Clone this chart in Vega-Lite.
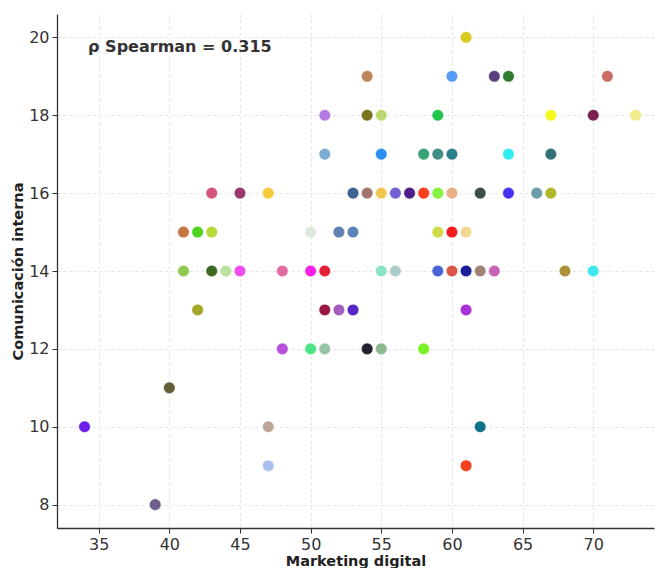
{
  "$schema": "https://vega.github.io/schema/vega-lite/v6.json",
  "width": 597,
  "height": 514,
  "autosize": {"type": "none"},
  "padding": {"left": 57, "top": 14, "right": 1, "bottom": 40},
  "config": {
    "view": {"stroke": null},
    "font": "DejaVu Sans",
    "axis": {
      "grid": true,
      "gridDash": [3, 3],
      "gridColor": "#dcdcdc",
      "gridWidth": 0.8,
      "domainColor": "#333333",
      "domainWidth": 1.3,
      "tickColor": "#333333",
      "tickSize": 5,
      "labelFont": "DejaVu Sans",
      "labelFontSize": 16,
      "labelColor": "#333333",
      "titleFont": "DejaVu Sans",
      "titleFontSize": 14.5,
      "titleFontWeight": "bold",
      "titleColor": "#222222"
    }
  },
  "layer": [
    {
      "data": {
        "values": [
          {"id": "p01", "marketing": 61, "comunicacion": 20},
          {"id": "p02", "marketing": 54, "comunicacion": 19},
          {"id": "p03", "marketing": 60, "comunicacion": 19},
          {"id": "p04", "marketing": 63, "comunicacion": 19},
          {"id": "p05", "marketing": 64, "comunicacion": 19},
          {"id": "p06", "marketing": 71, "comunicacion": 19},
          {"id": "p07", "marketing": 51, "comunicacion": 18},
          {"id": "p08", "marketing": 54, "comunicacion": 18},
          {"id": "p09", "marketing": 55, "comunicacion": 18},
          {"id": "p10", "marketing": 59, "comunicacion": 18},
          {"id": "p11", "marketing": 67, "comunicacion": 18},
          {"id": "p12", "marketing": 70, "comunicacion": 18},
          {"id": "p13", "marketing": 73, "comunicacion": 18},
          {"id": "p14", "marketing": 51, "comunicacion": 17},
          {"id": "p15", "marketing": 55, "comunicacion": 17},
          {"id": "p16", "marketing": 58, "comunicacion": 17},
          {"id": "p17", "marketing": 59, "comunicacion": 17},
          {"id": "p18", "marketing": 60, "comunicacion": 17},
          {"id": "p19", "marketing": 64, "comunicacion": 17},
          {"id": "p20", "marketing": 67, "comunicacion": 17},
          {"id": "p21", "marketing": 43, "comunicacion": 16},
          {"id": "p22", "marketing": 45, "comunicacion": 16},
          {"id": "p23", "marketing": 47, "comunicacion": 16},
          {"id": "p24", "marketing": 53, "comunicacion": 16},
          {"id": "p25", "marketing": 54, "comunicacion": 16},
          {"id": "p26", "marketing": 55, "comunicacion": 16},
          {"id": "p27", "marketing": 56, "comunicacion": 16},
          {"id": "p28", "marketing": 57, "comunicacion": 16},
          {"id": "p29", "marketing": 58, "comunicacion": 16},
          {"id": "p30", "marketing": 59, "comunicacion": 16},
          {"id": "p31", "marketing": 60, "comunicacion": 16},
          {"id": "p32", "marketing": 62, "comunicacion": 16},
          {"id": "p33", "marketing": 64, "comunicacion": 16},
          {"id": "p34", "marketing": 66, "comunicacion": 16},
          {"id": "p35", "marketing": 67, "comunicacion": 16},
          {"id": "p36", "marketing": 41, "comunicacion": 15},
          {"id": "p37", "marketing": 42, "comunicacion": 15},
          {"id": "p38", "marketing": 43, "comunicacion": 15},
          {"id": "p39", "marketing": 50, "comunicacion": 15},
          {"id": "p40", "marketing": 52, "comunicacion": 15},
          {"id": "p41", "marketing": 53, "comunicacion": 15},
          {"id": "p42", "marketing": 59, "comunicacion": 15},
          {"id": "p43", "marketing": 60, "comunicacion": 15},
          {"id": "p44", "marketing": 61, "comunicacion": 15},
          {"id": "p45", "marketing": 41, "comunicacion": 14},
          {"id": "p46", "marketing": 43, "comunicacion": 14},
          {"id": "p47", "marketing": 44, "comunicacion": 14},
          {"id": "p48", "marketing": 45, "comunicacion": 14},
          {"id": "p49", "marketing": 48, "comunicacion": 14},
          {"id": "p50", "marketing": 50, "comunicacion": 14},
          {"id": "p51", "marketing": 51, "comunicacion": 14},
          {"id": "p52", "marketing": 55, "comunicacion": 14},
          {"id": "p53", "marketing": 56, "comunicacion": 14},
          {"id": "p54", "marketing": 59, "comunicacion": 14},
          {"id": "p55", "marketing": 60, "comunicacion": 14},
          {"id": "p56", "marketing": 61, "comunicacion": 14},
          {"id": "p57", "marketing": 62, "comunicacion": 14},
          {"id": "p58", "marketing": 63, "comunicacion": 14},
          {"id": "p59", "marketing": 68, "comunicacion": 14},
          {"id": "p60", "marketing": 70, "comunicacion": 14},
          {"id": "p61", "marketing": 42, "comunicacion": 13},
          {"id": "p62", "marketing": 51, "comunicacion": 13},
          {"id": "p63", "marketing": 52, "comunicacion": 13},
          {"id": "p64", "marketing": 53, "comunicacion": 13},
          {"id": "p65", "marketing": 61, "comunicacion": 13},
          {"id": "p66", "marketing": 48, "comunicacion": 12},
          {"id": "p67", "marketing": 50, "comunicacion": 12},
          {"id": "p68", "marketing": 51, "comunicacion": 12},
          {"id": "p69", "marketing": 54, "comunicacion": 12},
          {"id": "p70", "marketing": 55, "comunicacion": 12},
          {"id": "p71", "marketing": 58, "comunicacion": 12},
          {"id": "p72", "marketing": 40, "comunicacion": 11},
          {"id": "p73", "marketing": 34, "comunicacion": 10},
          {"id": "p74", "marketing": 47, "comunicacion": 10},
          {"id": "p75", "marketing": 62, "comunicacion": 10},
          {"id": "p76", "marketing": 47, "comunicacion": 9},
          {"id": "p77", "marketing": 61, "comunicacion": 9},
          {"id": "p78", "marketing": 39, "comunicacion": 8}
        ]
      },
      "mark": {"type": "circle", "size": 135, "opacity": 0.93, "stroke": "#ffffff", "strokeWidth": 0.5},
      "encoding": {
        "x": {
          "field": "marketing",
          "type": "quantitative",
          "title": "Marketing digital",
          "scale": {"domain": [32.05, 74.3], "nice": false, "zero": false},
          "axis": {"values": [35, 40, 45, 50, 55, 60, 65, 70], "labelPadding": 3, "titlePadding": 2}
        },
        "y": {
          "field": "comunicacion",
          "type": "quantitative",
          "title": "Comunicación interna",
          "scale": {"domain": [7.4, 20.6], "nice": false, "zero": false},
          "axis": {"values": [8, 10, 12, 14, 16, 18, 20], "labelPadding": 3, "titlePadding": 3}
        },
        "color": {
          "field": "id",
          "type": "nominal",
          "legend": null,
          "scale": {
            "domain": ["p01","p02","p03","p04","p05","p06","p07","p08","p09","p10","p11","p12","p13","p14","p15","p16","p17","p18","p19","p20","p21","p22","p23","p24","p25","p26","p27","p28","p29","p30","p31","p32","p33","p34","p35","p36","p37","p38","p39","p40","p41","p42","p43","p44","p45","p46","p47","p48","p49","p50","p51","p52","p53","p54","p55","p56","p57","p58","p59","p60","p61","p62","p63","p64","p65","p66","p67","p68","p69","p70","p71","p72","p73","p74","p75","p76","p77","p78"],
            "range": ["#d6c812","#b87d4e","#4b96f7","#4b3274","#21731f","#c4615a","#b071e0","#726a12","#b7d866","#12c23f","#f7f712","#721446","#f0ea84","#74a6d0","#1a88f2","#2b9a6c","#31877d","#187884","#22ecf2","#22696a","#d14872","#922a62","#f7c52e","#2f5a8c","#9a6a62","#f2c242","#6a56d2","#430a82","#f8320e","#80f236","#eaaa7c","#2f3f38","#3a22f2","#6196a2","#a9b21c","#c26b34","#42d00e","#b2d82a","#d8e8d8","#5478ac","#4a7cb6","#cada3a","#f70a10","#f2d78a","#8ac444","#2f5f10","#b8e09c","#f041f2","#e3609c","#f412e6","#e00e2a","#82e2c2","#a8c8c8","#3a58d0","#d84a3a","#0a0e94","#987a6a","#c45ab2","#a88a2a","#32e8f0","#a0a01a","#920634","#9a52ba","#4a16c2","#a022d2","#b044da","#42e27a","#92c0a2","#12121f","#84b486","#6ef212","#585326","#6210ea","#b9a092","#00687e","#a2bcea","#f2320c","#625380"]
          }
        }
      }
    },
    {
      "data": {"values": [{"label": "ρ Spearman = 0.315", "marketing": 34.25, "comunicacion": 19.75}]},
      "mark": {"type": "text", "align": "left", "baseline": "middle", "font": "DejaVu Sans", "fontWeight": "bold", "fontSize": 16, "color": "#333333"},
      "encoding": {
        "x": {"field": "marketing", "type": "quantitative", "title": "Marketing digital"},
        "y": {"field": "comunicacion", "type": "quantitative", "title": "Comunicación interna"},
        "text": {"field": "label"}
      }
    }
  ]
}
